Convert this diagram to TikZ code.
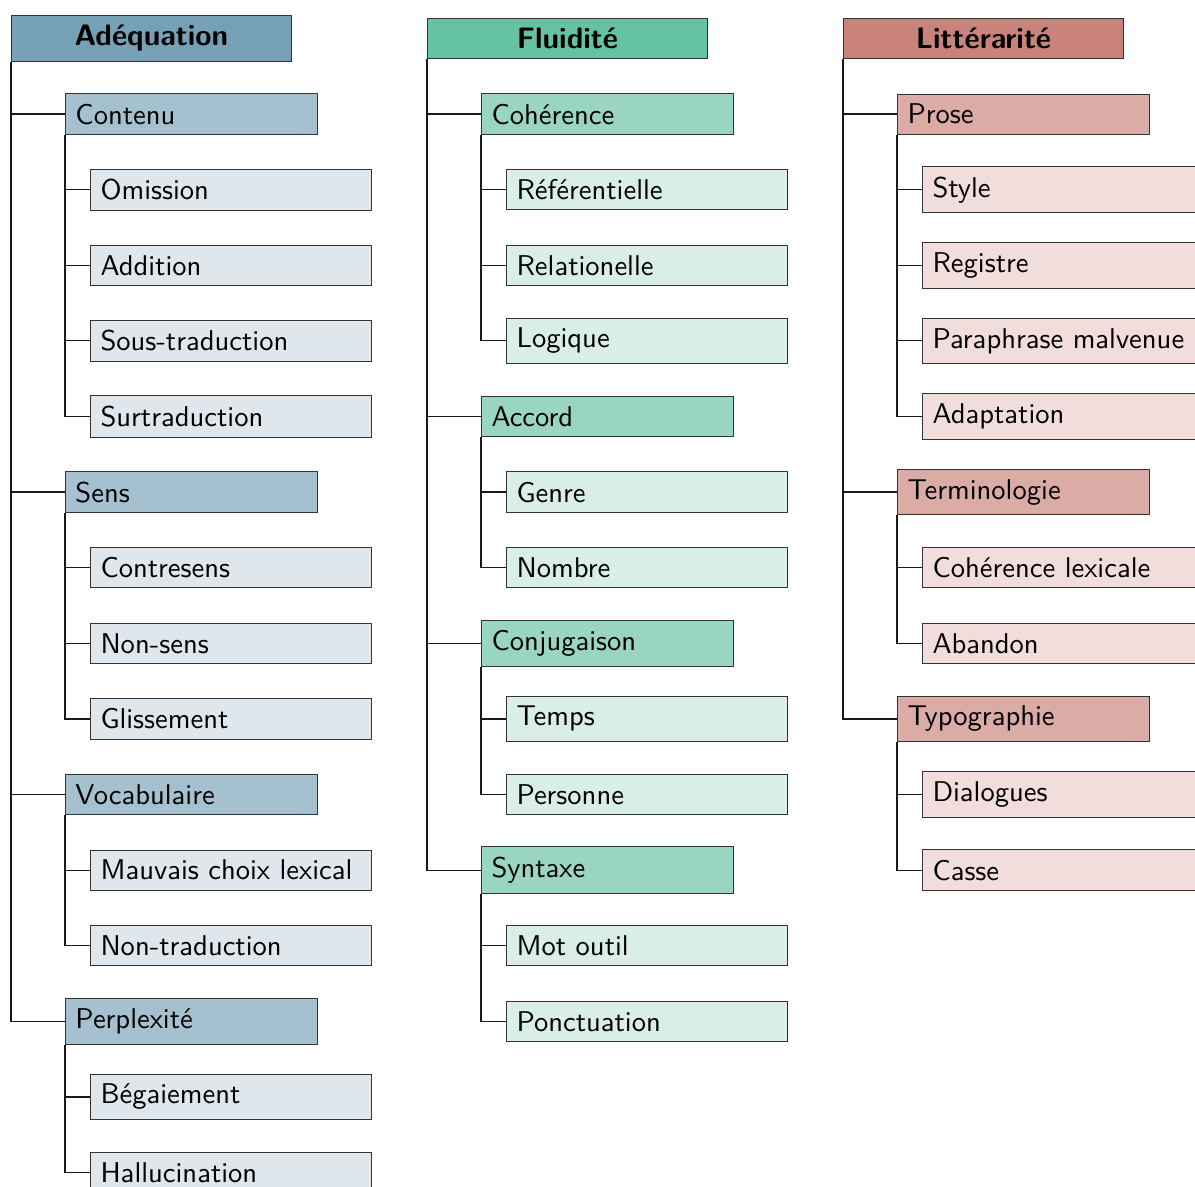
\documentclass[tikz,border=0pt]{standalone}
\usepackage{fontspec}
\setsansfont{lmsans10-regular.otf}[BoldFont=lmsans10-bold.otf]
\definecolor{blueH}{RGB}{118,160,181}
\definecolor{blueM}{RGB}{165,193,207}
\definecolor{blueL}{RGB}{223,230,236}
\definecolor{greenH}{RGB}{102,194,165}
\definecolor{greenM}{RGB}{153,213,194}
\definecolor{greenL}{RGB}{217,238,232}
\definecolor{redH}{RGB}{201,131,123}
\definecolor{redM}{RGB}{219,171,166}
\definecolor{redL}{RGB}{241,222,220}
\tikzset{
  box/.style={draw=black!80, line width=0.5pt, anchor=west, inner sep=5pt,
    font=\sffamily\fontsize{14.3}{17}\selectfont},
  hdr/.style={box, text width=130pt, align=center,
    font=\sffamily\bfseries\fontsize{14.8}{17}\selectfont},
  lvone/.style={box, text width=116pt, align=left},
  lvtwo/.style={box, text width=130.5pt, align=left},
  link/.style={draw=black!90, line width=0.6pt},
}
\newcommand{\rowy}[1]{38.5+75.6*#1}
\begin{document}
\begin{tikzpicture}[x=0.5pt, y=-0.5pt]
\useasboundingbox (0,0) rectangle (1195,1187);
\clip (0,0) rectangle (1195,1187);
% ---------- Column 1: Adequation ----------
\node[hdr, fill=blueH] (A) at (11,{\rowy{0}}) {Adéquation};
\node[lvone, fill=blueM] (A1) at (65,{\rowy{1}}) {Contenu};
\node[lvtwo, fill=blueL] (A11) at (90,{\rowy{2}}) {Omission};
\node[lvtwo, fill=blueL] (A12) at (90,{\rowy{3}}) {Addition};
\node[lvtwo, fill=blueL] (A13) at (90,{\rowy{4}}) {Sous-traduction};
\node[lvtwo, fill=blueL] (A14) at (90,{\rowy{5}}) {Surtraduction};
\node[lvone, fill=blueM] (A2) at (65,{\rowy{6}}) {Sens};
\node[lvtwo, fill=blueL] (A21) at (90,{\rowy{7}}) {Contresens};
\node[lvtwo, fill=blueL] (A22) at (90,{\rowy{8}}) {Non-sens};
\node[lvtwo, fill=blueL] (A23) at (90,{\rowy{9}}) {Glissement};
\node[lvone, fill=blueM] (A3) at (65,{\rowy{10}}) {Vocabulaire};
\node[lvtwo, fill=blueL] (A31) at (90,{\rowy{11}}) {Mauvais choix lexical};
\node[lvtwo, fill=blueL] (A32) at (90,{\rowy{12}}) {Non-traduction};
\node[lvone, fill=blueM] (A4) at (65,{\rowy{13}}) {Perplexité};
\node[lvtwo, fill=blueL] (A41) at (90,{\rowy{14}}) {Bégaiement};
\node[lvtwo, fill=blueL] (A42) at (90,{\rowy{15}}) {Hallucination};
\foreach \c in {A1,A2,A3,A4} \draw[link] (A.south west) |- (\c.west);
\foreach \c in {A11,A12,A13,A14} \draw[link] (A1.south west) |- (\c.west);
\foreach \c in {A21,A22,A23} \draw[link] (A2.south west) |- (\c.west);
\foreach \c in {A31,A32} \draw[link] (A3.south west) |- (\c.west);
\foreach \c in {A41,A42} \draw[link] (A4.south west) |- (\c.west);
% ---------- Column 2: Fluidite ----------
\node[hdr, fill=greenH] (F) at (427,{\rowy{0}}) {Fluidité};
\node[lvone, fill=greenM] (F1) at (481,{\rowy{1}}) {Cohérence};
\node[lvtwo, fill=greenL] (F11) at (506,{\rowy{2}}) {Référentielle};
\node[lvtwo, fill=greenL] (F12) at (506,{\rowy{3}}) {Relationelle};
\node[lvtwo, fill=greenL] (F13) at (506,{\rowy{4}}) {Logique};
\node[lvone, fill=greenM] (F2) at (481,{\rowy{5}}) {Accord};
\node[lvtwo, fill=greenL] (F21) at (506,{\rowy{6}}) {Genre};
\node[lvtwo, fill=greenL] (F22) at (506,{\rowy{7}}) {Nombre};
\node[lvone, fill=greenM] (F3) at (481,{\rowy{8}}) {Conjugaison};
\node[lvtwo, fill=greenL] (F31) at (506,{\rowy{9}}) {Temps};
\node[lvtwo, fill=greenL] (F32) at (506,{\rowy{10}}) {Personne};
\node[lvone, fill=greenM] (F4) at (481,{\rowy{11}}) {Syntaxe};
\node[lvtwo, fill=greenL] (F41) at (506,{\rowy{12}}) {Mot outil};
\node[lvtwo, fill=greenL] (F42) at (506,{\rowy{13}}) {Ponctuation};
\foreach \c in {F1,F2,F3,F4} \draw[link] (F.south west) |- (\c.west);
\foreach \c in {F11,F12,F13} \draw[link] (F1.south west) |- (\c.west);
\foreach \c in {F21,F22} \draw[link] (F2.south west) |- (\c.west);
\foreach \c in {F31,F32} \draw[link] (F3.south west) |- (\c.west);
\foreach \c in {F41,F42} \draw[link] (F4.south west) |- (\c.west);
% ---------- Column 3: Litterarite ----------
\node[hdr, fill=redH] (L) at (843,{\rowy{0}}) {Littérarité};
\node[lvone, fill=redM] (L1) at (897,{\rowy{1}}) {Prose};
\node[lvtwo, fill=redL] (L11) at (922,{\rowy{2}}) {Style};
\node[lvtwo, fill=redL] (L12) at (922,{\rowy{3}}) {Registre};
\node[lvtwo, fill=redL] (L13) at (922,{\rowy{4}}) {Paraphrase malvenue};
\node[lvtwo, fill=redL] (L14) at (922,{\rowy{5}}) {Adaptation};
\node[lvone, fill=redM] (L2) at (897,{\rowy{6}}) {Terminologie};
\node[lvtwo, fill=redL] (L21) at (922,{\rowy{7}}) {Cohérence lexicale};
\node[lvtwo, fill=redL] (L22) at (922,{\rowy{8}}) {Abandon};
\node[lvone, fill=redM] (L3) at (897,{\rowy{9}}) {Typographie};
\node[lvtwo, fill=redL] (L31) at (922,{\rowy{10}}) {Dialogues};
\node[lvtwo, fill=redL] (L32) at (922,{\rowy{11}}) {Casse};
\foreach \c in {L1,L2,L3} \draw[link] (L.south west) |- (\c.west);
\foreach \c in {L11,L12,L13,L14} \draw[link] (L1.south west) |- (\c.west);
\foreach \c in {L21,L22} \draw[link] (L2.south west) |- (\c.west);
\foreach \c in {L31,L32} \draw[link] (L3.south west) |- (\c.west);
\end{tikzpicture}
\end{document}
